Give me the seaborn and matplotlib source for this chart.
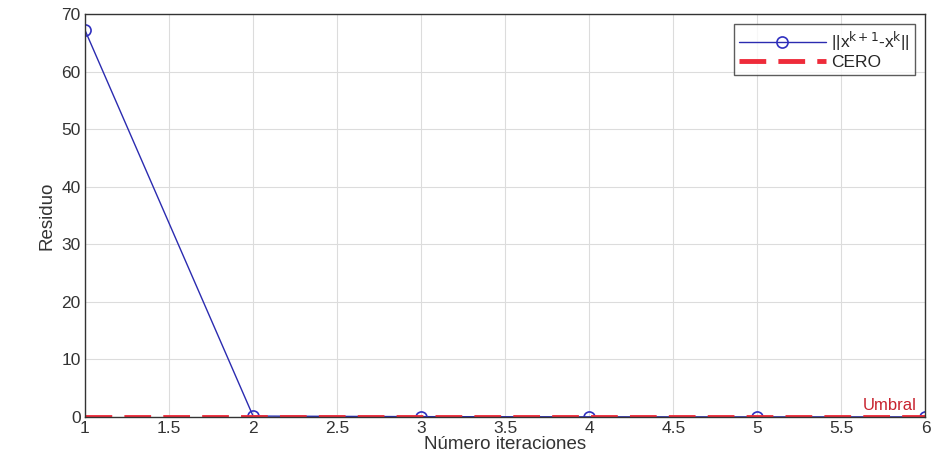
import matplotlib
matplotlib.use("Agg")
import matplotlib.pyplot as plt
import seaborn as sns
import pandas as pd

iteraciones = [1, 2, 3, 4, 5, 6]
residuo = [67.2, 0.15, 0.05, 0.02, 0.01, 0.01]
cero = [0, 0, 0, 0, 0, 0]
xticks = [1, 1.5, 2, 2.5, 3, 3.5, 4, 4.5, 5, 5.5, 6]
yticks = [0, 10, 20, 30, 40, 50, 60, 70]

sns.set_theme(style="whitegrid")
plt.rcParams['font.family'] = ['Liberation Sans', 'DejaVu Sans']
plt.rcParams['mathtext.fontset'] = 'custom'
plt.rcParams['mathtext.rm'] = 'Liberation Sans'
plt.rcParams['mathtext.it'] = 'Liberation Sans'

df = pd.DataFrame({"it": iteraciones, "res": residuo, "cero": cero})

fig = plt.figure(figsize=(9.37, 4.69), dpi=100)
ax = fig.add_axes([0.0907, 0.111, 0.897, 0.859])

sns.lineplot(data=df, x="it", y="res", ax=ax, color="#2b2bb0", lw=1.0,
             marker="o", markersize=8, markerfacecolor="none",
             markeredgecolor="#3030c0", markeredgewidth=1.2,
             label=r"||x$^{\mathsf{k+1}}$-x$^{\mathsf{k}}$||")
sns.lineplot(data=df, x="it", y="cero", ax=ax, color="#ee2b3a", lw=3.5,
             linestyle=(0, (5.5, 2.5)), label="CERO")

ax.text(5.95, 0.6, "Umbral", color="#c8232f", fontsize=12, ha="right", va="bottom")

ax.set_xlim(1, 6)
ax.set_ylim(0, 70)
ax.set_xticks(xticks)
ax.set_xticklabels([f"{t:g}" for t in xticks])
ax.set_yticks(yticks)
ax.set_xlabel("Número iteraciones", fontsize=13.5, color="#333333", labelpad=0)
ax.set_ylabel("Residuo", fontsize=13.5, color="#333333", labelpad=4)
ax.tick_params(axis="both", labelsize=12.5, colors="#333333", length=0, pad=3)
ax.grid(True, color="#dcdcdc", lw=0.8)
ax.set_facecolor("white")
for s in ax.spines.values():
    s.set_visible(True)
    s.set_color("#333333")
    s.set_linewidth(1.0)

leg = ax.legend(loc="upper right", fontsize=12.5, frameon=True, fancybox=False,
                edgecolor="#333333", borderpad=0.3, labelspacing=0.1,
                handlelength=5.0, handletextpad=0.3, borderaxespad=0.6)
leg.get_frame().set_linewidth(1.0)

fig.savefig("out.png", dpi=100, facecolor="white")
